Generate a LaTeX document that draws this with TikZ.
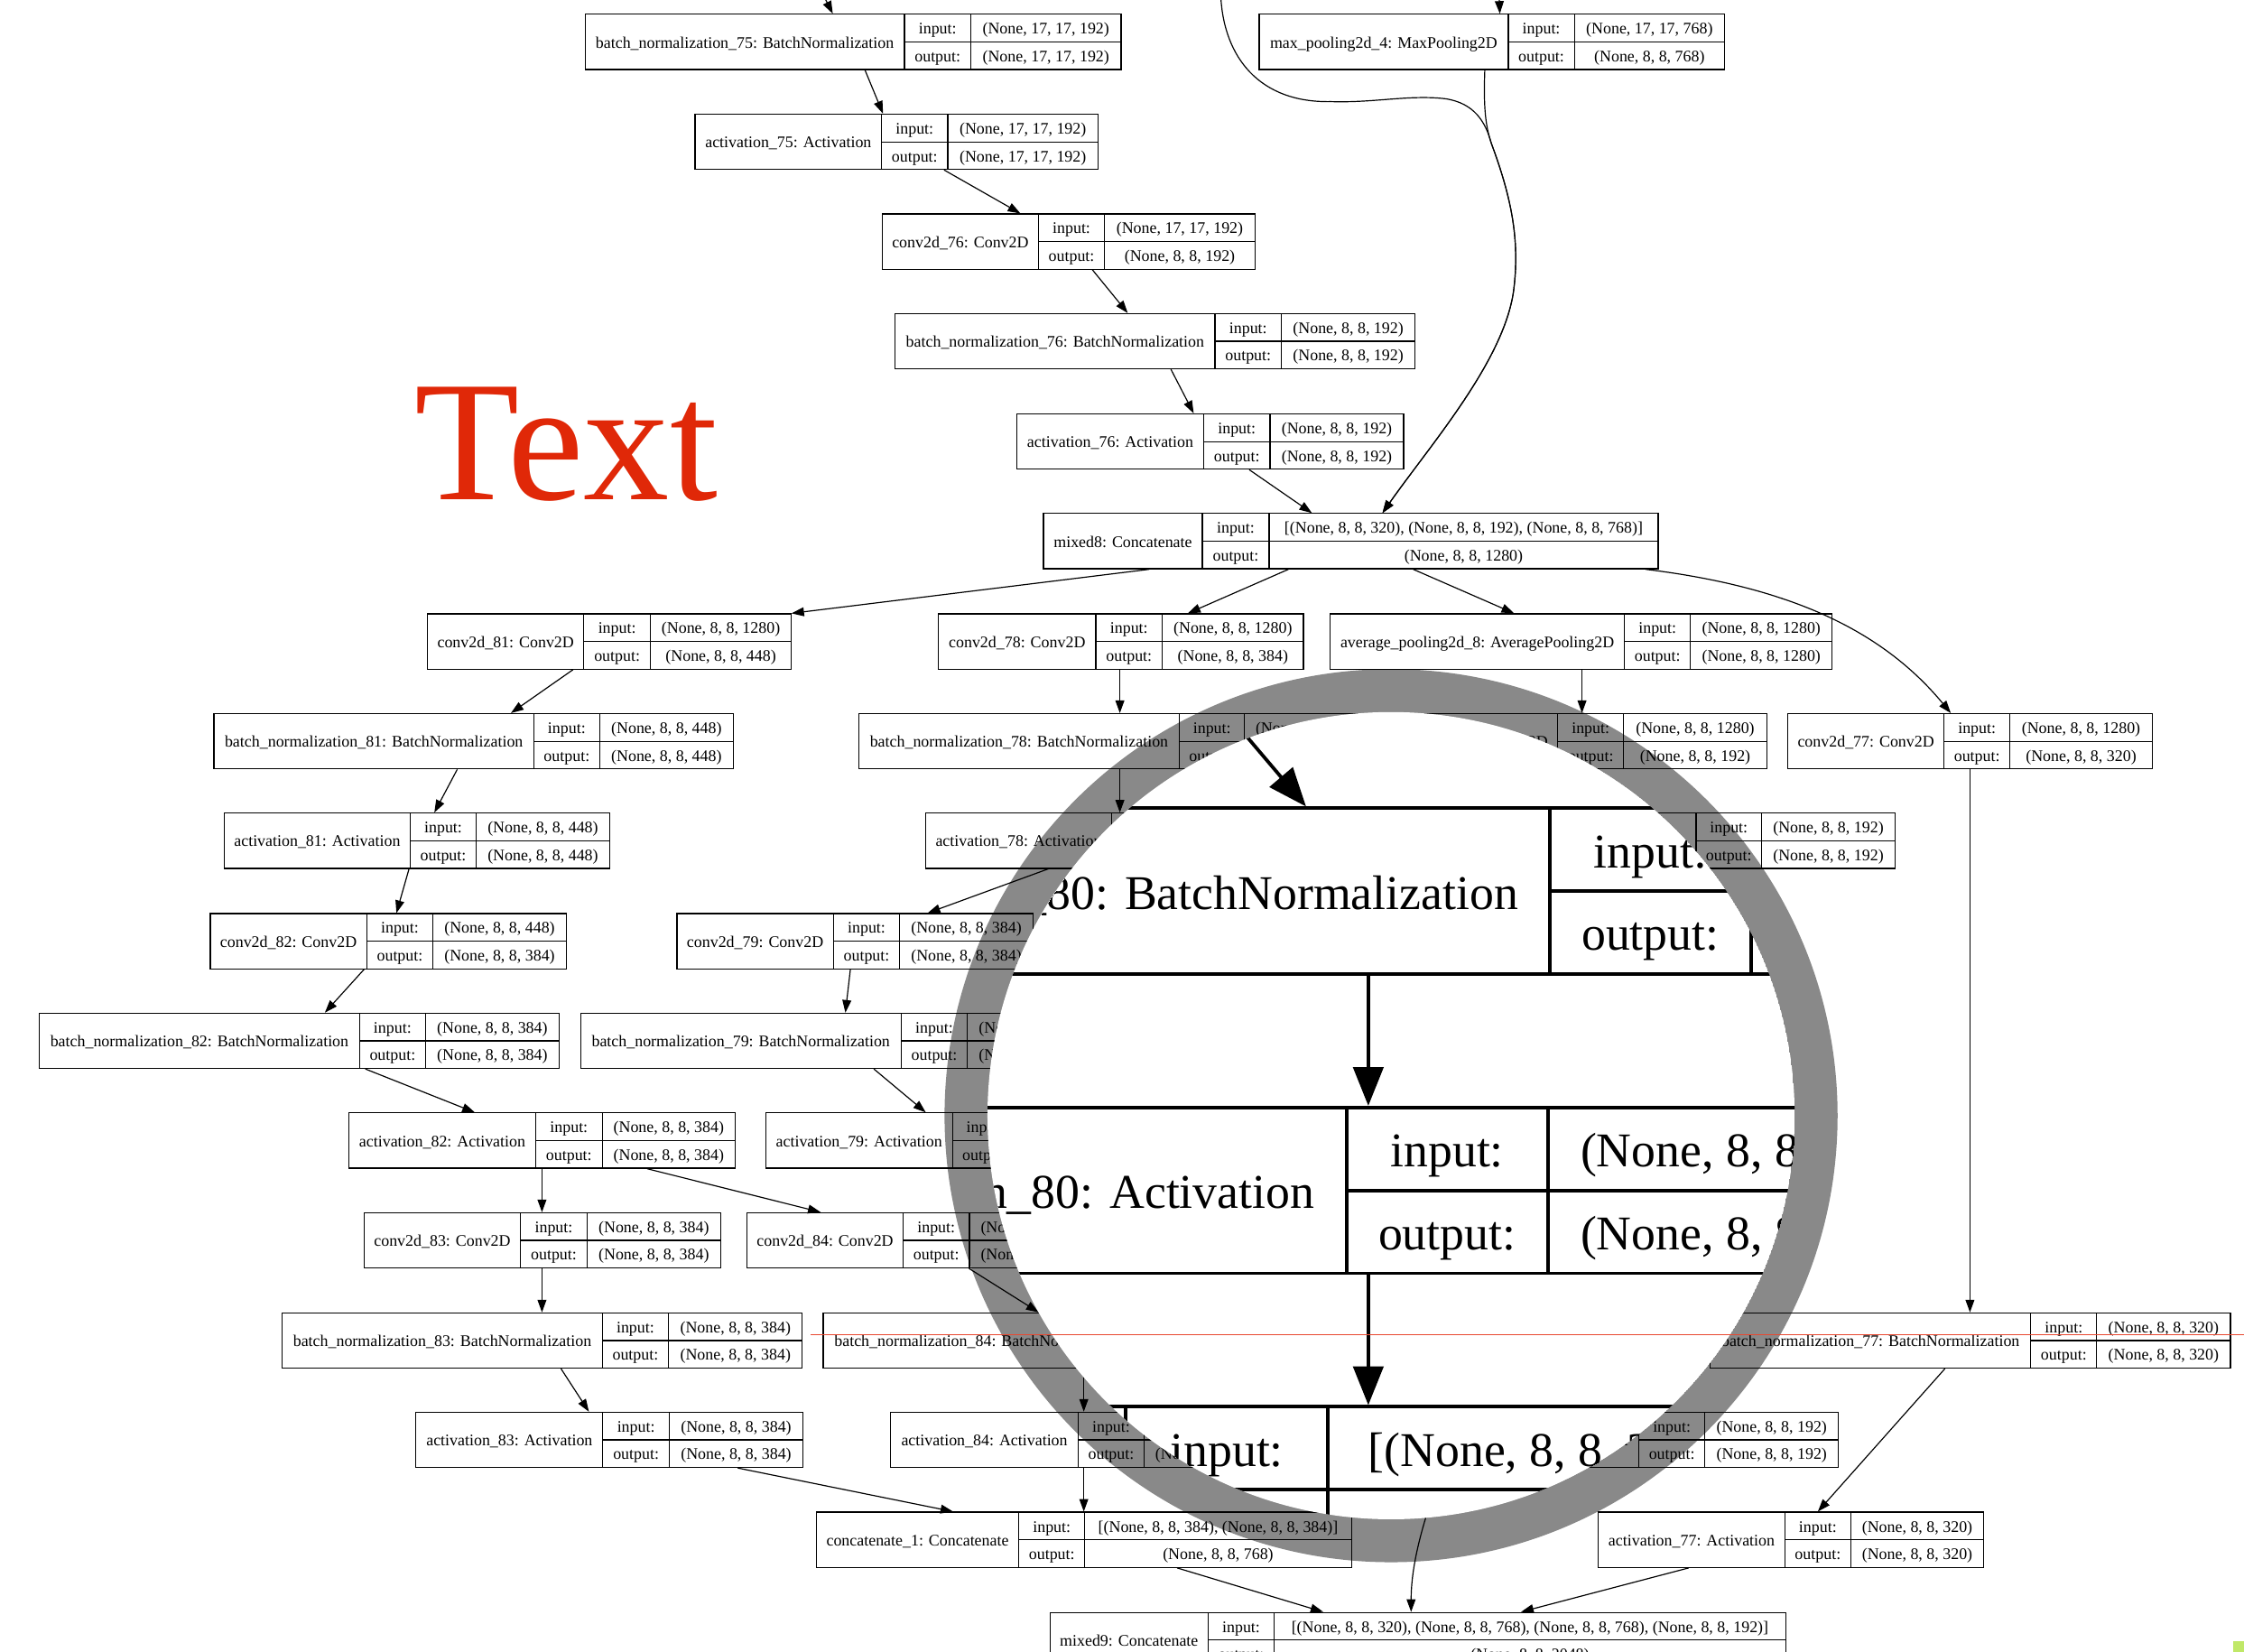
\documentclass[tikz,border=0pt]{standalone}
\usepackage{fontspec}
\setmainfont{Liberation Serif}
\usetikzlibrary{arrows.meta,fit}
\definecolor{ringgray}{RGB}{137,137,137}
\definecolor{textred}{RGB}{224,40,8}
\definecolor{linered}{RGB}{232,72,48}
\definecolor{markgreen}{RGB}{192,232,104}
\newcommand\tx[1]{#1}
\newcommand\ty[1]{#1}
\newcommand\recfont{\fontsize{11.3}{13}\selectfont}
\newcommand\rec[9]{%
  \node[recbox, fit={({\tx{#3}},{\ty{#2}}) ({\tx{#6}},{\ty{#2+38.6}})}] (#1) {};
  \draw[recline] ({\tx{#4}},{\ty{#2}}) -- ({\tx{#4}},{\ty{#2+38.6}})
                 ({\tx{#5}},{\ty{#2}}) -- ({\tx{#5}},{\ty{#2+38.6}})
                 ({\tx{#4}},{\ty{#2+19.3}}) -- ({\tx{#6}},{\ty{#2+19.3}});
  \node[rectext] (#1-lab) at ({\tx{(#3+#4)/2}},{\ty{#2+23.5}}) {#7};
  \node[rectext] (#1-in) at ({\tx{(#4+#5)/2}},{\ty{#2+13.85}}) {input:};
  \node[rectext] (#1-out) at ({\tx{(#4+#5)/2}},{\ty{#2+33.15}}) {output:};
  \node[rectext] (#1-inv) at ({\tx{(#5+#6)/2}},{\ty{#2+13.85}}) {#8};
  \node[rectext] (#1-outv) at ({\tx{(#5+#6)/2}},{\ty{#2+33.15}}) {#9};
}
\tikzset{
  recbox/.style={draw, line width=0.75pt, inner sep=0pt},
  recline/.style={line width=0.75pt},
  rectext/.style={inner sep=0pt, anchor=base, font=\recfont},
  arr/.style={line width=0.75pt, -{Triangle[length=8.8pt,width=6.2pt]}},
  marr/.style={line width=2.4pt, -{Triangle[length=27pt,width=21pt]}},
}
\begin{document}
\begin{tikzpicture}[x=1pt,y=-1pt]
\useasboundingbox (0,0) rectangle (1568,1154);
\fill[white] (0,0) rectangle (1568,1154);
% lens ring (under the diagram)
\fill[ringgray] (972,779.5) circle[radius=312pt];

% ---------------- normal diagram ----------------
\rec{bn75}{9.96}{408.8}{632}{678.3}{783.4}{batch\_normalization\_75: BatchNormalization}{(None, 17, 17, 192)}{(None, 17, 17, 192)}
\rec{mp4}{9.96}{879.8}{1053.9}{1100.1}{1205}{max\_pooling2d\_4: MaxPooling2D}{(None, 17, 17, 768)}{(None, 8, 8, 768)}
\rec{act75}{79.8}{485.7}{616}{662.2}{767.3}{activation\_75: Activation}{(None, 17, 17, 192)}{(None, 17, 17, 192)}
\rec{conv76}{149.5}{616.5}{725.6}{771.8}{876.9}{conv2d\_76: Conv2D}{(None, 17, 17, 192)}{(None, 8, 8, 192)}
\rec{bn76}{219.1}{625.5}{849}{895.3}{988.8}{batch\_normalization\_76: BatchNormalization}{(None, 8, 8, 192)}{(None, 8, 8, 192)}
\rec{act76}{289.2}{710.5}{841.1}{887.4}{980.8}{activation\_76: Activation}{(None, 8, 8, 192)}{(None, 8, 8, 192)}
\rec{mixed8}{358.8}{729.1}{840.1}{886.8}{1158.6}{mixed8: Concatenate}{[(None, 8, 8, 320), (None, 8, 8, 192), (None, 8, 8, 768)]}{(None, 8, 8, 1280)}
\rec{conv81}{428.9}{298.7}{408}{454.4}{553}{conv2d\_81: Conv2D}{(None, 8, 8, 1280)}{(None, 8, 8, 448)}
\rec{conv78}{428.9}{655.7}{765.7}{812.1}{910.8}{conv2d\_78: Conv2D}{(None, 8, 8, 1280)}{(None, 8, 8, 384)}
\rec{avgp8}{428.9}{929.4}{1135.1}{1181.2}{1280.2}{average\_pooling2d\_8: AveragePooling2D}{(None, 8, 8, 1280)}{(None, 8, 8, 1280)}
\rec{bn81}{498.6}{149.5}{373}{419}{512.4}{batch\_normalization\_81: BatchNormalization}{(None, 8, 8, 448)}{(None, 8, 8, 448)}
\rec{bn78}{498.6}{600}{824.1}{869.7}{962.2}{batch\_normalization\_78: BatchNormalization}{(None, 8, 8, 384)}{(None, 8, 8, 384)}
\rec{conv85}{498.6}{979.3}{1088.3}{1134.6}{1234.4}{conv2d\_85: Conv2D}{(None, 8, 8, 1280)}{(None, 8, 8, 192)}
\rec{conv77}{498.6}{1249.3}{1358.3}{1404.5}{1503.8}{conv2d\_77: Conv2D}{(None, 8, 8, 1280)}{(None, 8, 8, 320)}
\rec{act81}{568.1}{156.6}{286.7}{332.7}{426}{activation\_81: Activation}{(None, 8, 8, 448)}{(None, 8, 8, 448)}
\rec{act78}{568.1}{646.9}{776.7}{822.7}{915.7}{activation\_78: Activation}{(None, 8, 8, 384)}{(None, 8, 8, 384)}
\rec{bn85}{568.1}{961.1}{1185.1}{1230.9}{1324.2}{batch\_normalization\_85: BatchNormalization}{(None, 8, 8, 192)}{(None, 8, 8, 192)}
\rec{conv82}{638.3}{146.9}{256.2}{302.6}{395.6}{conv2d\_82: Conv2D}{(None, 8, 8, 448)}{(None, 8, 8, 384)}
\rec{conv79}{638.3}{473}{582.3}{628.7}{721.7}{conv2d\_79: Conv2D}{(None, 8, 8, 384)}{(None, 8, 8, 384)}
\rec{bn82}{707.9}{27.4}{251.3}{297.3}{390.7}{batch\_normalization\_82: BatchNormalization}{(None, 8, 8, 384)}{(None, 8, 8, 384)}
\rec{bn79}{707.9}{405.7}{629.6}{676}{769}{batch\_normalization\_79: BatchNormalization}{(None, 8, 8, 384)}{(None, 8, 8, 384)}
\rec{act82}{777.6}{243.8}{374.3}{420.8}{513.7}{activation\_82: Activation}{(None, 8, 8, 384)}{(None, 8, 8, 384)}
\rec{act79}{777.6}{535}{665.5}{711.5}{804.5}{activation\_79: Activation}{(None, 8, 8, 384)}{(None, 8, 8, 384)}
\rec{conv83}{847.3}{254.4}{363.7}{410.2}{503.5}{conv2d\_83: Conv2D}{(None, 8, 8, 384)}{(None, 8, 8, 384)}
\rec{conv84}{847.3}{522}{631}{677.4}{770.4}{conv2d\_84: Conv2D}{(None, 8, 8, 384)}{(None, 8, 8, 384)}
\rec{bn83}{917.3}{197.3}{420.8}{467.2}{560.6}{batch\_normalization\_83: BatchNormalization}{(None, 8, 8, 384)}{(None, 8, 8, 384)}
\rec{bn84}{917.3}{575.2}{799.2}{845.2}{938.2}{batch\_normalization\_84: BatchNormalization}{(None, 8, 8, 384)}{(None, 8, 8, 384)}
\rec{bn77}{917.3}{1195}{1419}{1465.1}{1558.5}{batch\_normalization\_77: BatchNormalization}{(None, 8, 8, 320)}{(None, 8, 8, 320)}
\rec{act83}{986.7}{290.7}{421.2}{467.7}{561}{activation\_83: Activation}{(None, 8, 8, 384)}{(None, 8, 8, 384)}
\rec{act84}{986.7}{622.3}{753.4}{799.4}{892.4}{activation\_84: Activation}{(None, 8, 8, 384)}{(None, 8, 8, 384)}
\rec{act85}{986.7}{1013.8}{1145.2}{1191.2}{1284.7}{activation\_85: Activation}{(None, 8, 8, 192)}{(None, 8, 8, 192)}
\rec{concat1}{1056.5}{570.4}{711.9}{758}{944.3}{concatenate\_1: Concatenate}{[(None, 8, 8, 384), (None, 8, 8, 384)]}{(None, 8, 8, 768)}
\rec{act77}{1056.5}{1116.8}{1247.2}{1293.2}{1386.1}{activation\_77: Activation}{(None, 8, 8, 320)}{(None, 8, 8, 320)}
\rec{mixed9}{1126.6}{733.6}{844.2}{890.3}{1247.8}{mixed9: Concatenate}{[(None, 8, 8, 320), (None, 8, 8, 768), (None, 8, 8, 768), (None, 8, 8, 192)]}{(None, 8, 8, 2048)}

% free ends
\coordinate (tin1) at (575.5,-3);
\coordinate (tin2) at (1047.5,-3);
\coordinate (tin3) at (853,-3);
\coordinate (m90out) at (1003,1040);

% connectors
\draw[arr] (tin1) -- (bn75.north -| 581.9,0);
\draw[arr] (tin2) -- (mp4.north -| 1048,0);
\draw[arr] (bn75.south -| 604.4,0) -- (act75.north -| 617,0);
\draw[arr] (act75.south -| 659.7,0) -- (conv76.north -| 713,0);
\draw[arr] (conv76.south -| 763.3,0) -- (bn76.north -| 788,0);
\draw[arr] (bn76.south -| 818.2,0) -- (act76.north -| 834.1,0);
\draw[arr] (act76.south -| 872.9,0) -- (mixed8.north -| 916.7,0);
\draw[arr] (tin3) .. controls (855,40) and (880,72) .. (930,71)
  .. controls (960,72) and (985,66) .. (1010,69)
  .. controls (1030,72) and (1038,85) .. (1042,100)
  .. controls (1055,135) and (1062,165) .. (1058,200)
  .. controls (1053,250) and (1000,310) .. (mixed8.north -| 966,0);
\draw[arr] (mp4.south -| 1037.5,0) .. controls (1036.5,75) and (1038,88) .. (1042,100)
  .. controls (1055,135) and (1062,165) .. (1058,200)
  .. controls (1053,250) and (1000,310) .. (mixed8.north -| 966,0);
\draw[arr] (mixed8.south -| 803,0) -- (conv81.north -| 553,0);
\draw[arr] (mixed8.south -| 900.3,0) -- (conv78.north -| 830,0);
\draw[arr] (mixed8.south -| 987.5,0) -- (avgp8.north -| 1058,0);
\draw[arr] (mixed8.south -| 1150,0) .. controls (1250,410) and (1315,440) .. (conv77.north -| 1363.1,0);
\draw[arr] (conv81.south -| 400.4,0) -- (bn81.north -| 357,0);
\draw[arr] (conv78.south -| 782.5,0) -- (bn78.north -| 782.5,0);
\draw[arr] (avgp8.south -| 1105.4,0) -- (conv85.north -| 1105.4,0);
\draw[arr] (conv77.south -| 1376.5,0) -- (bn77.north -| 1376.5,0);
\draw[arr] (bn81.south -| 319.5,0) -- (act81.north -| 303.5,0);
\draw[arr] (bn78.south -| 782.5,0) -- (act78.north -| 782.5,0);
\draw[arr] (act81.south -| 285.8,0) -- (conv82.north -| 277,0);
\draw[arr] (act78.south -| 732.5,0) -- (conv79.north -| 648.2,0);
\draw[arr] (conv82.south -| 254.4,0) -- (bn82.north -| 227,0);
\draw[arr] (conv79.south -| 594.2,0) -- (bn79.north -| 590.7,0);
\draw[arr] (bn82.south -| 255.3,0) -- (act82.north -| 331.8,0);
\draw[arr] (bn79.south -| 610.6,0) -- (act79.north -| 646.9,0);
\draw[arr] (act82.south -| 378.7,0) -- (conv83.north -| 378.7,0);
\draw[arr] (act82.south -| 452.2,0) -- (conv84.north -| 573.4,0);
\draw[arr] (conv83.south -| 378.7,0) -- (bn83.north -| 378.7,0);
\draw[arr] (conv84.south -| 677.1,0) -- (bn84.north -| 725.8,0);
\draw[arr] (bn83.south -| 392,0) -- (act83.north -| 411.5,0);
\draw[arr] (bn84.south -| 757.3,0) -- (act84.north -| 757.3,0);
\draw[arr] (bn77.south -| 1359,0) -- (act77.north -| 1270.2,0);
\draw[arr] (act83.south -| 515.5,0) -- (concat1.north -| 666,0);
\draw[arr] (act84.south -| 757.3,0) -- (concat1.north -| 757.3,0);
\draw[arr] (concat1.south -| 822.5,0) -- (mixed9.north -| 924.6,0);
\draw[arr] (act77.south -| 1180,0) -- (mixed9.north -| 1062.8,0);
\draw[arr] (m90out) .. controls (993,1068) and (986,1095) .. (mixed9.north -| 986,0);

% ---------------- lens interior (magnified x3) ----------------
\begin{scope}
  \clip (972,779.5) circle[radius=282pt];
  \fill[white] (972,779.5) circle[radius=282pt];
  \renewcommand\tx[1]{(972+3*((#1)-972))}
  \renewcommand\ty[1]{(779.5+3*((#1)-779.5))}
  \renewcommand\recfont{\fontsize{33.9}{40}\selectfont}
  \tikzset{recline/.style={line width=2.4pt},
           recbox/.style={draw, line width=2.4pt, inner sep=0pt}}
  \rec{mbn80}{707.9}{785.9}{1008.9}{1055.9}{1148.4}{batch\_normalization\_80: BatchNormalization}{(None, 8, 8, 384)}{(None, 8, 8, 384)}
  \rec{mact80}{777.6}{830.6}{961.6}{1008.5}{1101}{activation\_80: Activation}{(None, 8, 8, 384)}{(None, 8, 8, 384)}
  \rec{mm90}{847.3}{789.2}{910.2}{957.3}{1143.6}{mixed9\_0: Concatenate}{[(None, 8, 8, 384), (None, 8, 8, 384)]}{(None, 8, 8, 768)}
  \coordinate (mc80) at (835.5,472.6);
  \draw[marr] (mc80) -- (mbn80.north -| 912.6,0);
  \draw[marr] (mbn80.south -| 956.1,0) -- (mact80.north -| 956.1,0);
  \draw[marr] (mact80.south -| 956.1,0) -- (mm90.north -| 956.1,0);
\end{scope}

% ---------------- overlays ----------------
\draw[linered, line width=0.7pt] (566.5,932.6) -- (1568,932.6);
\node[anchor=base west, inner sep=0pt, text=textred, font=\fontsize{120}{120}\selectfont] (title) at (289.5,349.4) {Text};
\fill[markgreen] (1560.6,1146.5) rectangle (1568,1154);
\end{tikzpicture}
\end{document}
